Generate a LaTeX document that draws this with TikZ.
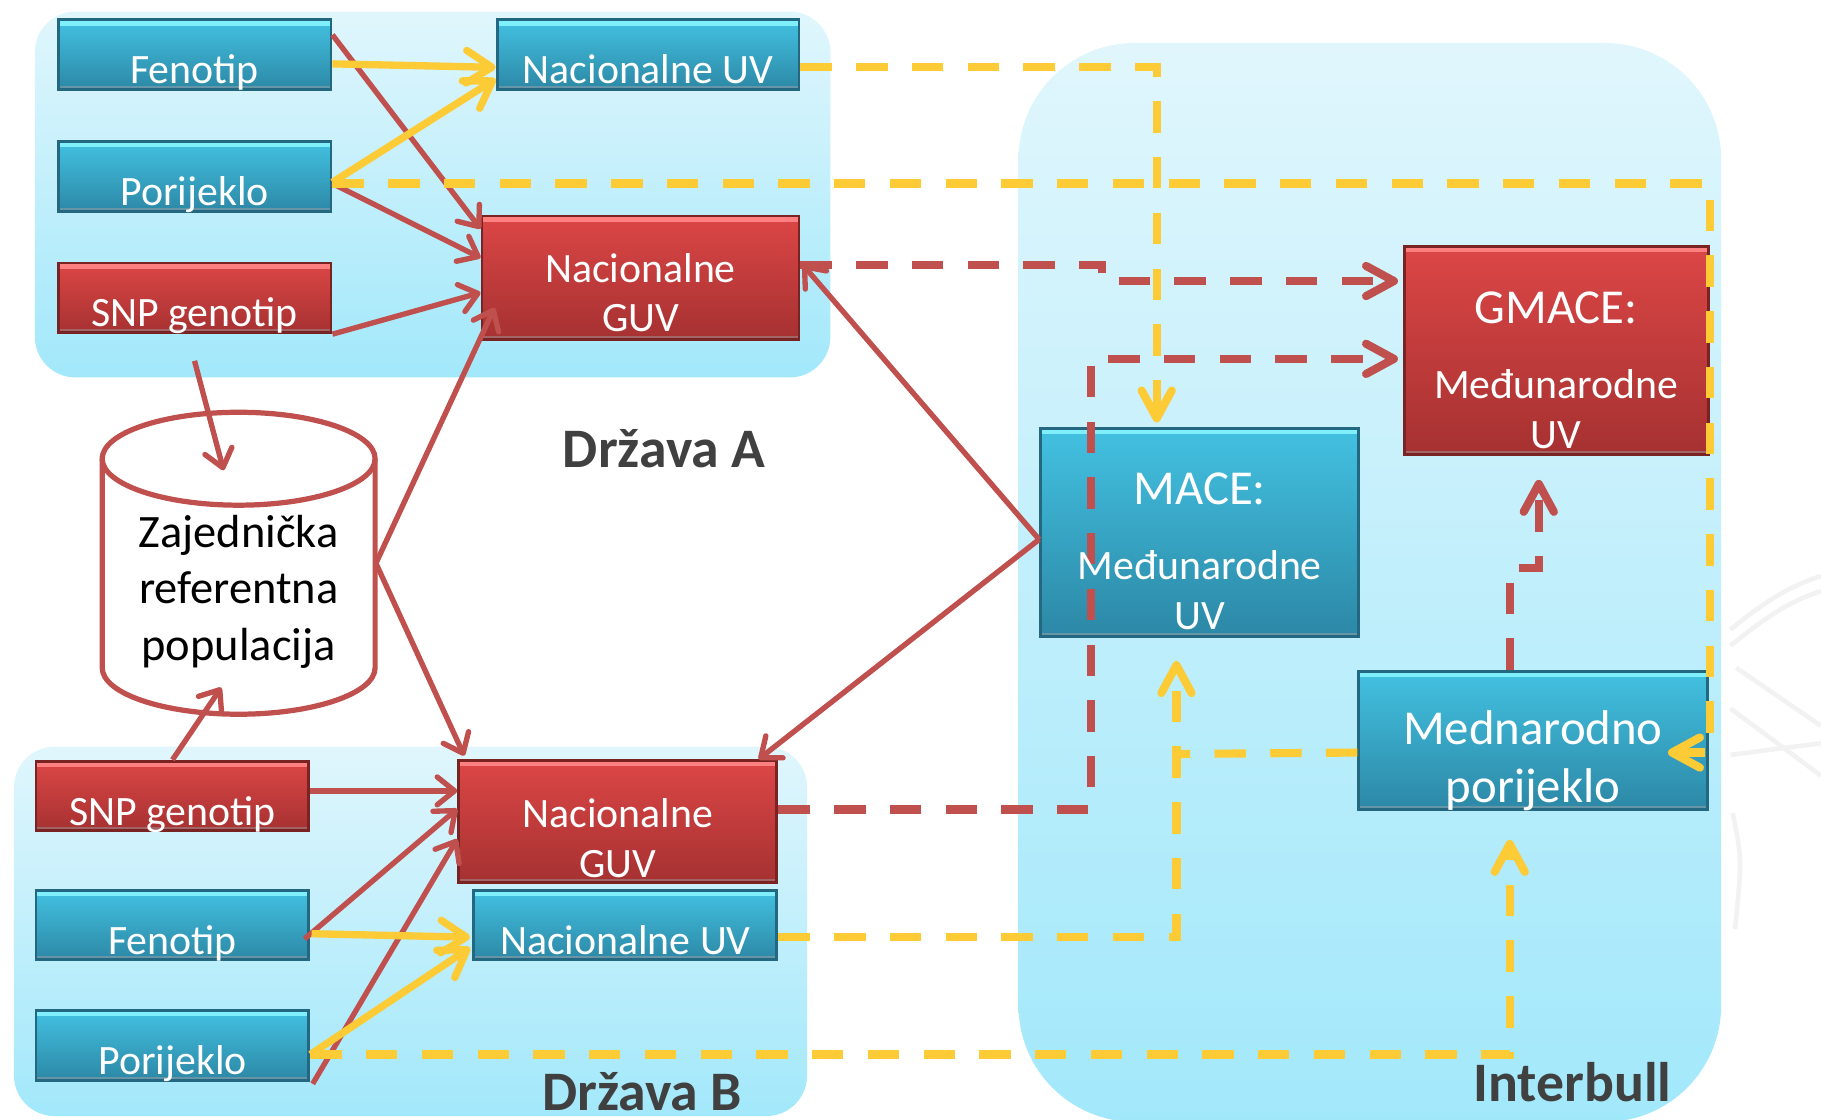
\documentclass[tikz,border=0pt]{standalone}
\usepackage{fontspec}
\setmainfont{Carlito}
\usetikzlibrary{arrows.meta,calc}

\definecolor{ibred}{HTML}{C0504D}
\definecolor{ibyellow}{HTML}{FDCB35}
\definecolor{ibgray}{HTML}{404040}
\definecolor{paneltop}{HTML}{E0F6FC}
\definecolor{panelbot}{HTML}{A2E8FB}
\definecolor{bluetop}{HTML}{43C1E1}
\definecolor{bluebot}{HTML}{2C88A6}
\definecolor{blueline}{HTML}{236780}
\definecolor{bluelight}{HTML}{7FEFFC}
\definecolor{redtop}{HTML}{DC4646}
\definecolor{redbot}{HTML}{A63131}
\definecolor{redline}{HTML}{7A2323}
\definecolor{redlight}{HTML}{FF8080}

\newcommand{\rows}[1]{\begin{tabular}[b]{@{}c@{}}#1\end{tabular}}

\begin{document}
\begin{tikzpicture}[x=0.1mm,y=-0.1mm,
  panel/.style={rounded corners=#1, top color=paneltop, bottom color=panelbot},
  bluebox/.style={draw=blueline, line width=0.25mm, top color=bluetop, bottom color=bluebot, inner sep=0pt,
    path picture={\fill[bluelight] (path picture bounding box.north west) rectangle ([yshift=-0.5mm]path picture bounding box.north east);
      \fill[blueline!70] (path picture bounding box.south west) rectangle ([yshift=0.3mm]path picture bounding box.south east);}},
  redbox/.style={draw=redline, line width=0.25mm, top color=redtop, bottom color=redbot, inner sep=0pt,
    path picture={\fill[redlight] (path picture bounding box.north west) rectangle ([yshift=-0.5mm]path picture bounding box.north east);
      \fill[redline!70] (path picture bounding box.south west) rectangle ([yshift=0.3mm]path picture bounding box.south east);}},
  stdsize/.style={minimum width=23.5mm, minimum height=6mm},
  boxtext/.style={text=white, inner sep=0pt, anchor=base, font=\fontsize{10.24}{12.2}\selectfont},
  bigtext/.style={boxtext, font=\fontsize{11.95}{14.2}\selectfont},
  cntlabel/.style={text=ibgray, inner sep=0pt, font=\fontsize{13.66}{16}\selectfont\bfseries},
  redarrow/.style={draw=ibred, line width=0.46mm, -{Straight Barb[round,length=1.5mm,width=2.4mm]}},
  yellowarrow/.style={draw=ibyellow, line width=0.63mm, -{Straight Barb[round,length=2.2mm,width=2.8mm]}},
  yellowline/.style={draw=ibyellow, line width=0.7mm, dash pattern=on 2.7mm off 2.1mm},
  yellowdash/.style={yellowline, -{Straight Barb[round,length=2.4mm,width=2.6mm]}},
  reddash/.style={draw=ibred, line width=0.7mm, dash pattern=on 2.7mm off 2.1mm, -{Straight Barb[round,length=2.4mm,width=2.6mm]}}]
\useasboundingbox (0,0) rectangle (1568,964);

% background panels
\path[panel=3.5mm] (30,10) rectangle (715,325);
\path[panel=3.5mm] (12,643) rectangle (695,961);
\path[panel=10mm] (877,37) rectangle (1482,966);

% faint helix on the right
\begin{scope}[black!5, line width=0.4mm]
  \draw (1490,542) .. controls (1520,518) and (1540,505) .. (1568,496);
  \draw (1490,556) .. controls (1520,532) and (1540,518) .. (1568,509);
  \draw (1495,575) -- (1568,625);
  \draw (1490,610) -- (1568,668);
  \draw (1490,650) -- (1568,640);
  \draw (1492,700) .. controls (1500,740) .. (1494,800);
\end{scope}

% shared reference population
\draw[ibred, line width=0.45mm, fill=white] (88,395) -- (88,575)
  arc[start angle=180, end angle=360, x radius=11.75mm, y radius=4mm] -- (323,395)
  arc[start angle=0, end angle=180, x radius=11.75mm, y radius=4mm] -- cycle;
\draw[ibred, line width=0.45mm] (88,395) arc[start angle=180, end angle=360, x radius=11.75mm, y radius=4mm];
\node[minimum width=23.5mm, minimum height=26mm, inner sep=0pt] (refpop) at (205.5,485) {};

% Drzava A
\node[bluebox, stdsize] (fenA) at (167.5,47) {};
\node[bluebox, minimum width=26mm, minimum height=6mm] (uvA) at (558,47) {};
\node[bluebox, stdsize] (porA) at (167.5,152) {};
\node[redbox, stdsize] (snpA) at (167.5,256.5) {};
\node[redbox, minimum width=27.3mm, minimum height=10.6mm] (guvA) at (551.5,239) {};

% Drzava B
\node[redbox, stdsize] (snpB) at (148.5,685.5) {};
\node[redbox, minimum width=27.4mm, minimum height=10.5mm] (guvB) at (532,707.5) {};
\node[bluebox, stdsize] (fenB) at (148.5,796.5) {};
\node[bluebox, minimum width=26.1mm, minimum height=6mm] (uvB) at (538.5,796.5) {};
\node[bluebox, stdsize] (porB) at (148.5,900) {};

% Interbull
\node[bluebox, minimum width=27.4mm, minimum height=17.9mm] (mace) at (1033,458.5) {};
\node[redbox, minimum width=26.2mm, minimum height=17.9mm] (gmace) at (1340,301.5) {};
\node[bluebox, minimum width=30mm, minimum height=11.9mm] (mpor) at (1320,637.5) {};

% solid connectors
\draw[redarrow] ($(fenA.east)+(0,-17)$) -- ($(guvA.west)+(0,-42)$);
\draw[redarrow] ($(porA.east)+(0,6)$) -- ($(guvA.west)+(0,-17)$);
\draw[redarrow] (snpA.south east) -- ($(guvA.west)+(0,13)$);
\draw[redarrow] (refpop.east) -- ($(guvA.west)+(12,26)$);
\draw[redarrow] (refpop.east) -- ($(guvB.north west)+(6,-3)$);
\draw[redarrow] ($(snpA.south)+(0,23)$) -- ($(refpop.center)+(-13,-80)$);
\draw[redarrow] (snpB.north) -- ($(refpop.center)+(-15,107)$);
\draw[redarrow] ($(mace.west)+(0,6)$) -- ($(guvA.east)+(2,-11)$);
\draw[redarrow] ($(mace.west)+(0,6)$) -- ($(guvB.north east)+(-17,0)$);
\draw[redarrow] ($(snpB.east)+(0,-4.5)$) -- ($(guvB.west)+(0,-26.5)$);
\draw[redarrow] ($(fenB.east)+(-5,12)$) -- ($(guvB.west)+(0,-11)$);
\draw[redarrow] ($(porB.south east)+(2,2)$) -- ($(guvB.west)+(0,15)$);

\draw[yellowarrow] ($(fenA.east)+(0,8)$) -- ($(uvA.west)+(0,11)$);
\draw[yellowarrow] ($(porA.east)+(0,5)$) -- ($(uvA.west)+(0,21)$);
\draw[yellowarrow] ($(fenB.east)+(1,7.5)$) -- ($(uvB.west)+(-2,10.5)$);
\draw[yellowarrow] ($(porB.east)+(0,8)$) -- ($(uvB.west)+(-2,19.5)$);

% dashed connectors
\draw[yellowdash] ($(uvA.east)+(0,11)$) -| ($(mace.north)+(-37,-4)$);
\draw[yellowdash] ($(porA.east)+(0,6)$) -| ($(mpor.east)+(1,10.5)$) -- ($(mpor.east)+(-35,10.5)$);
\draw[yellowdash] ($(porB.east)+(0,8)$) -| ($(mpor.south)+(-20,25)$);
\draw[yellowdash] ($(uvB.east)+(0,10.5)$) -| ($(mace.south)+(-20,20)$);
\draw[yellowline] ($(mpor.west)+(0,10.5)$) -- ($(mace.south)+(-20,100)$);

\draw[reddash] ($(guvA.east)+(0,-11)$) -- ++(260,0) |- ($(gmace.west)+(-4,-59.5)$);
\draw[reddash] ($(guvB.east)+(0,-10.5)$) -- ++(269,0) |- ($(gmace.west)+(-4,7.5)$);
\draw[reddash] ($(mpor.north)+(-20,0)$) -- ++(0,-88) -| ($(gmace.south)+(-15,21)$);

% texts
\node[boxtext] (fenAt) at ($(fenA.south)+(0,-6)$) {Fenotip};
\node[boxtext] (uvAt) at ($(uvA.south)+(0,-6)$) {Nacionalne UV};
\node[boxtext] (porAt) at ($(porA.south)+(0,-6)$) {Porijeklo};
\node[boxtext] (snpAt) at ($(snpA.south)+(0,-7)$) {SNP genotip};
\node[boxtext] (guvAt) at ($(guvA.south)+(0,-7.5)$) {\rows{Nacionalne\\GUV}};
\node[boxtext] (snpBt) at ($(snpB.south)+(0,-6)$) {SNP genotip};
\node[boxtext] (guvBt) at ($(guvB.south)+(0,-6)$) {\rows{Nacionalne\\GUV}};
\node[boxtext] (fenBt) at ($(fenB.south)+(0,-6)$) {Fenotip};
\node[boxtext] (uvBt) at ($(uvB.south)+(0,-6)$) {Nacionalne UV};
\node[boxtext] (porBt) at ($(porB.south)+(0,-6)$) {Porijeklo};
\node[boxtext] (macet) at ($(mace.south)+(0,-7)$)
  {\rows{{\fontsize{11.95}{14}\selectfont MACE:}\\[6.4pt]Međunarodne\\UV}};
\node[boxtext] (gmacet) at ($(gmace.south)+(0,-6)$)
  {\rows{{\fontsize{11.95}{14}\selectfont GMACE:}\\[6.2pt]Međunarodne\\UV}};
\node[bigtext] (mport) at ($(mpor.south)+(0,-7)$) {\rows{Mednarodno\\porijeklo}};
\node[boxtext, text=black, font=\fontsize{11.38}{13.94}\selectfont] (refpopt) at ($(refpop.center)+(0,84)$)
  {\rows{Zajednička\\referentna\\populacija}};

\node[cntlabel] (drzA) at (572,386) {Država A};
\node[cntlabel] (drzB) at (553,940) {Država B};
\node[cntlabel] (ibull) at (1354,932) {Interbull};
\end{tikzpicture}
\end{document}
